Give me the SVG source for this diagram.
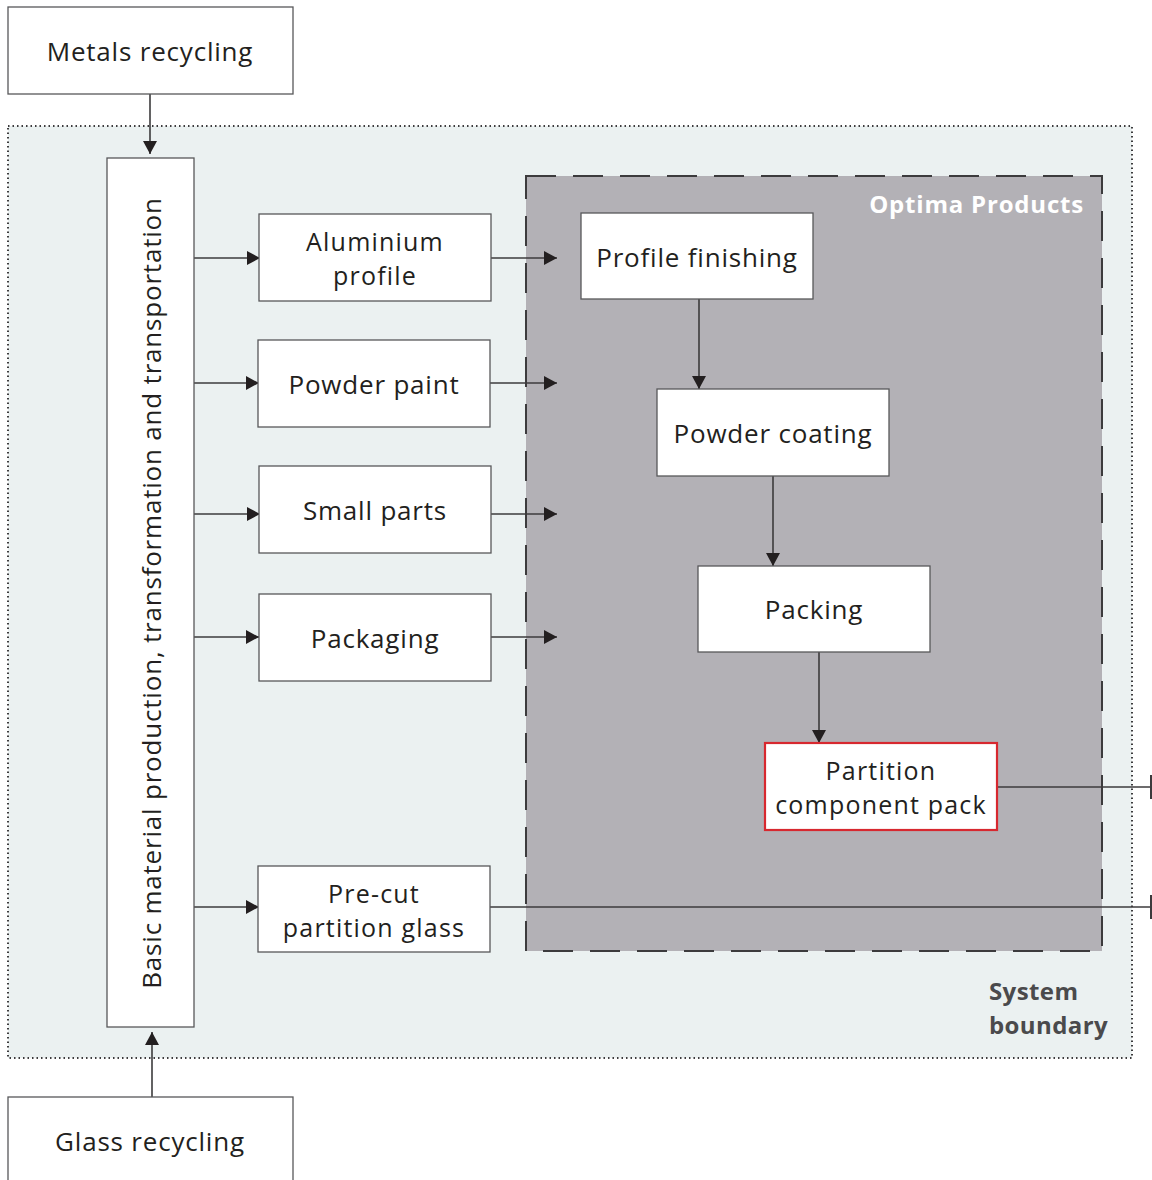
<svg xmlns="http://www.w3.org/2000/svg" width="1152" height="1180" viewBox="0 0 1152 1180">
<style>
.box{fill:#fff;stroke:#58585a;stroke-width:1.3}
.t{font-family:"Open Sans","Noto Sans",sans-serif;font-size:26px;letter-spacing:0.8px;fill:#231f20;text-anchor:middle}
.t2{font-family:"Open Sans","Noto Sans",sans-serif;font-size:25px;letter-spacing:1.2px;fill:#231f20;text-anchor:middle}
.ln{stroke:#3c3b3d;stroke-width:1.6;fill:none}
.sb{font-family:"Open Sans","Noto Sans",sans-serif;font-size:24px;font-weight:bold;letter-spacing:0.4px;fill:#4a4a4c}
</style>
<defs>
<marker id="ah2" markerWidth="20" markerHeight="14" refX="18" refY="7" orient="auto" markerUnits="userSpaceOnUse" viewBox="0 0 20 14">
<path d="M5,0 L18,7 L5,14 Z" fill="#231f20"/>
</marker>
<marker id="bar" markerWidth="4" markerHeight="24" refX="1" refY="12" orient="auto" markerUnits="userSpaceOnUse" viewBox="0 0 4 24">
<rect x="0" y="0" width="2" height="24" fill="#3c3b3d"/>
</marker>
</defs>
<rect width="1152" height="1180" fill="#fff"/>
<g id="system-boundary">
<rect x="8" y="126" width="1124" height="932" fill="#ebf1f1" stroke="#3c3b3d" stroke-width="2" stroke-dasharray="1.5 3"/>
<text class="sb" x="989" y="1000">System<tspan x="989" y="1034">boundary</tspan></text>
</g>
<g id="optima">
<rect x="526" y="176" width="576" height="775" fill="#b3b1b6" stroke="#3c3b3d" stroke-width="2" stroke-dasharray="30 17"/>
<text x="1084" y="213" style="font-family:'Open Sans','Noto Sans',sans-serif;font-size:24px;letter-spacing:0.8px;font-weight:bold;fill:#fff;text-anchor:end">Optima Products</text>
</g>
<g id="connectors">
<line class="ln" x1="150" y1="94" x2="150" y2="154" marker-end="url(#ah2)"/>
<line class="ln" x1="152" y1="1097" x2="152" y2="1032" marker-end="url(#ah2)"/>
<line class="ln" x1="194" y1="258" x2="260" y2="258" marker-end="url(#ah2)"/>
<line class="ln" x1="194" y1="383" x2="259" y2="383" marker-end="url(#ah2)"/>
<line class="ln" x1="194" y1="514" x2="260" y2="514" marker-end="url(#ah2)"/>
<line class="ln" x1="194" y1="637" x2="259" y2="637" marker-end="url(#ah2)"/>
<line class="ln" x1="194" y1="907" x2="259" y2="907" marker-end="url(#ah2)"/>
<line class="ln" x1="491" y1="258" x2="557" y2="258" marker-end="url(#ah2)"/>
<line class="ln" x1="490" y1="383" x2="557" y2="383" marker-end="url(#ah2)"/>
<line class="ln" x1="491" y1="514" x2="557" y2="514" marker-end="url(#ah2)"/>
<line class="ln" x1="491" y1="637" x2="557" y2="637" marker-end="url(#ah2)"/>
<line class="ln" x1="699" y1="299" x2="699" y2="389" marker-end="url(#ah2)"/>
<line class="ln" x1="773" y1="476" x2="773" y2="566" marker-end="url(#ah2)"/>
<line class="ln" x1="819" y1="652" x2="819" y2="743" marker-end="url(#ah2)"/>
<line class="ln" x1="997" y1="787" x2="1151" y2="787" marker-end="url(#bar)"/>
<line class="ln" x1="490" y1="907" x2="1151" y2="907" marker-end="url(#bar)"/>
</g>
<g id="metals-recycling">
<rect class="box" x="8" y="7" width="285" height="87"/>
<text class="t" x="150" y="61">Metals recycling</text>
</g>
<g id="glass-recycling">
<rect class="box" x="8" y="1097" width="285" height="100"/>
<text class="t" x="150" y="1151">Glass recycling</text>
</g>
<g id="basic-material">
<rect class="box" x="107" y="158" width="87" height="869"/>
<text class="t" transform="translate(161,593) rotate(-90)" x="0" y="0">Basic material production, transformation and transportation</text>
</g>
<g id="aluminium-profile">
<rect class="box" x="259" y="214" width="232" height="87"/>
<text class="t2" x="375" y="251">Aluminium<tspan x="375" y="285">profile</tspan></text>
</g>
<g id="powder-paint">
<rect class="box" x="258" y="340" width="232" height="87"/>
<text class="t" x="374" y="394">Powder paint</text>
</g>
<g id="small-parts">
<rect class="box" x="259" y="466" width="232" height="87"/>
<text class="t" x="375" y="520">Small parts</text>
</g>
<g id="packaging">
<rect class="box" x="259" y="594" width="232" height="87"/>
<text class="t" x="375" y="648">Packaging</text>
</g>
<g id="pre-cut-glass">
<rect class="box" x="258" y="866" width="232" height="86"/>
<text class="t2" x="374" y="903">Pre-cut<tspan x="374" y="937">partition glass</tspan></text>
</g>
<g id="profile-finishing">
<rect class="box" x="581" y="213" width="232" height="86"/>
<text class="t" x="697" y="267">Profile finishing</text>
</g>
<g id="powder-coating">
<rect class="box" x="657" y="389" width="232" height="87"/>
<text class="t" x="773" y="443">Powder coating</text>
</g>
<g id="packing">
<rect class="box" x="698" y="566" width="232" height="86"/>
<text class="t" x="814" y="619">Packing</text>
</g>
<g id="partition-pack">
<rect x="765" y="743" width="232" height="87" fill="#fff" stroke="#d7282f" stroke-width="2.2"/>
<text class="t2" x="881" y="780">Partition<tspan x="881" y="814">component pack</tspan></text>
</g>
</svg>
